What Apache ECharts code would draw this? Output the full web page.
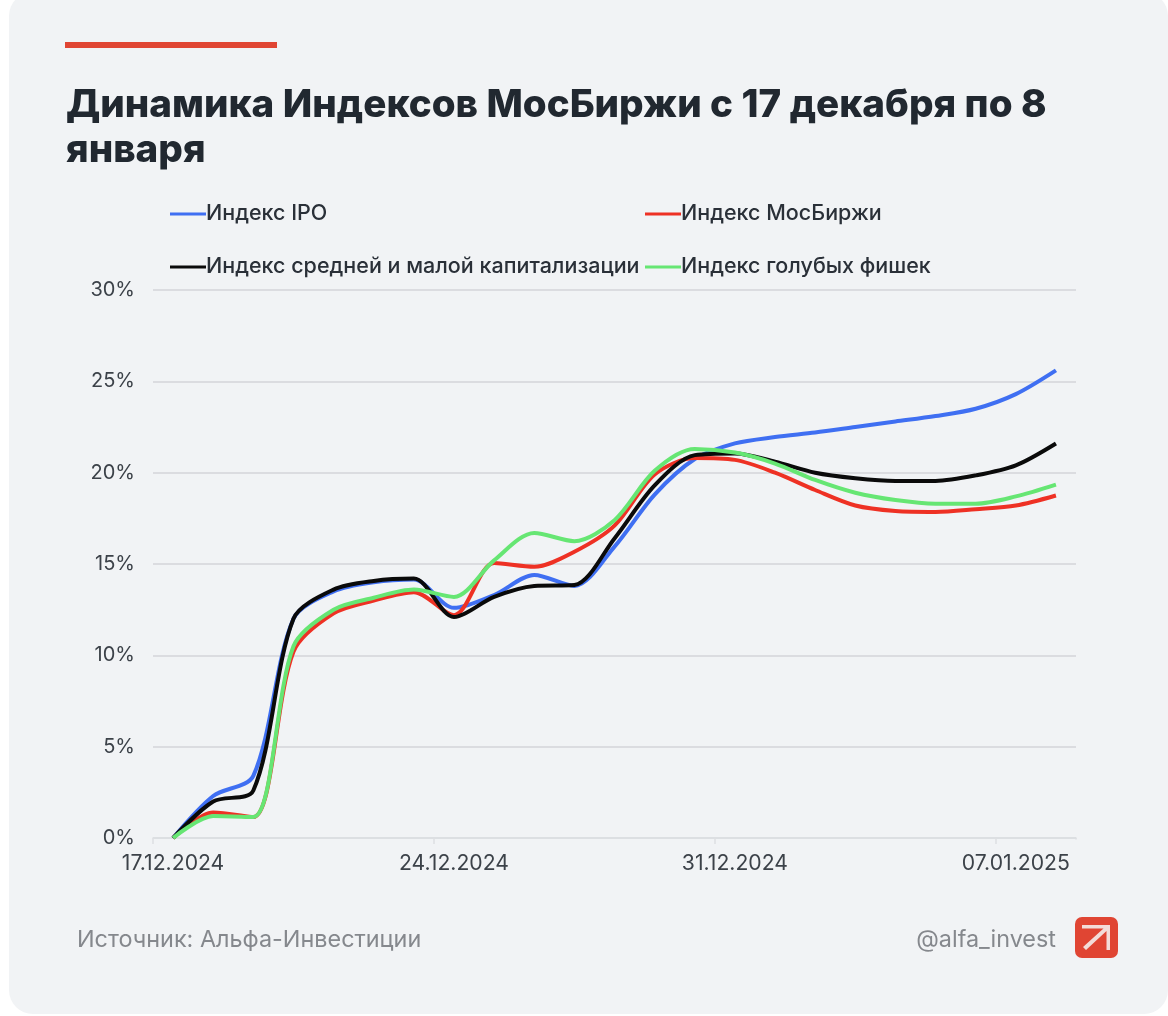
<!DOCTYPE html>
<html><head><meta charset="utf-8">
<style>html,body{margin:0;padding:0;background:#fff}#c{width:1168px;height:1016px}</style>
<script src="https://cdn.jsdelivr.net/npm/echarts@6/dist/echarts.min.js"></script>
</head><body><div id="c"></div>
<script>
const categories=['17.12.2024','18.12.2024','19.12.2024','20.12.2024','21.12.2024','22.12.2024','23.12.2024','24.12.2024','25.12.2024','26.12.2024','27.12.2024','28.12.2024','29.12.2024','30.12.2024','31.12.2024','01.01.2025','02.01.2025','03.01.2025','04.01.2025','05.01.2025','06.01.2025','07.01.2025','08.01.2025'];
const ipo=[0,2.3,3.4,12.0,13.5,14.0,14.15,12.6,13.3,14.4,13.8,15.95,18.8,20.75,21.6,21.95,22.2,22.5,22.8,23.1,23.5,24.3,25.6];
const moex=[0,1.4,1.15,10.2,12.3,13.0,13.46,12.2,15.05,14.85,15.67,17.1,19.9,20.8,20.7,20.0,19.05,18.2,17.9,17.85,18.0,18.2,18.75];
const smid=[0,2.0,2.6,12.0,13.6,14.07,14.2,12.1,13.2,13.8,13.85,16.4,19.3,20.96,21.05,20.6,20.0,19.7,19.55,19.55,19.85,20.4,21.6];
const blue=[0,1.2,1.15,10.5,12.5,13.15,13.6,13.2,15.2,16.7,16.25,17.4,20.1,21.3,21.1,20.5,19.6,18.9,18.5,18.3,18.3,18.7,19.35];
const seriesNames=['Индекс IPO','Индекс МосБиржи','Индекс средней и малой капитализации','Индекс голубых фишек'];
const seriesColors=['#3f6ff2','#ee3124','#0a0a0a','#66e673'];
const seriesData=[ipo,moex,smid,blue];
const legendPos=[[170,203],[645,203],[170,256],[645,256]];
const F='Inter';
const chart=echarts.init(document.getElementById('c'),null,{renderer:'canvas'});
chart.setOption({
  animation:false,
  backgroundColor:'#ffffff',
  textStyle:{fontFamily:F},
  title:{text:'Динамика Индексов МосБиржи с 17 декабря по 8\nянваря',left:66,top:83.5,padding:0,
    textStyle:{fontFamily:F,fontWeight:800,fontSize:38.6,lineHeight:44.5,color:'#212830'}},
  legend:seriesNames.map((n,i)=>({data:[n],left:legendPos[i][0],top:legendPos[i][1],icon:'rect',itemWidth:36,itemHeight:3,padding:0,
    textStyle:{fontFamily:F,fontSize:21.5,fontWeight:500,color:'#2a3038',padding:[0,0,0,-5]}})),
  grid:{left:153,right:92,top:290,bottom:178,containLabel:false},
  xAxis:{type:'category',data:categories,boundaryGap:true,
    axisLine:{lineStyle:{color:'#dddfe2',width:1.5}},
    axisTick:{show:true,interval:6,length:6,lineStyle:{color:'#dddfe2',width:1.5}},
    axisLabel:{interval:6,color:'#3c4249',fontSize:21.2,margin:15,fontFamily:F},
    splitLine:{show:false}},
  yAxis:{type:'value',min:0,max:30,interval:5,
    axisLine:{show:false},axisTick:{show:false},
    axisLabel:{formatter:'{value}%',color:'#3c4249',fontSize:20,margin:18,fontFamily:F},
    splitLine:{lineStyle:{color:'#d3d5d8',width:1.5}}},
  series:seriesNames.map((n,i)=>({name:n,type:'line',data:seriesData[i],smooth:0.3,showSymbol:false,
    lineStyle:{color:seriesColors[i],width:4},itemStyle:{color:seriesColors[i]}})),
  graphic:{elements:[
    {type:'rect',z:-100,shape:{x:9,y:-8,width:1159,height:1022,r:24},style:{fill:'#f1f3f5'}},
    {type:'rect',z:100,shape:{x:1073,y:839.5,width:6,height:8},style:{fill:'#f1f3f5'}},
    {type:'rect',shape:{x:65,y:42,width:212,height:6},style:{fill:'#e04533'}},
    {type:'text',x:77,y:928,style:{text:'Источник: Альфа-Инвестиции',fontFamily:F,fontSize:23.4,fill:'#85888d'}},
    {type:'text',x:1056,y:928,style:{text:'@alfa_invest',fontFamily:F,fontSize:23.4,fill:'#85888d',textAlign:'right'}},
    {type:'rect',shape:{x:1075,y:917,width:43,height:41,r:7},style:{fill:'#e04533'}},
    {type:'polygon',shape:{points:[[1082,925],[1110,925],[1110,950],[1106.5,950],[1106.5,931],[1086,950],[1083,947],[1103.5,928.5],[1082,928.5]]},style:{fill:'#f3dcd8'}}
  ]}
});
</script></body></html>
